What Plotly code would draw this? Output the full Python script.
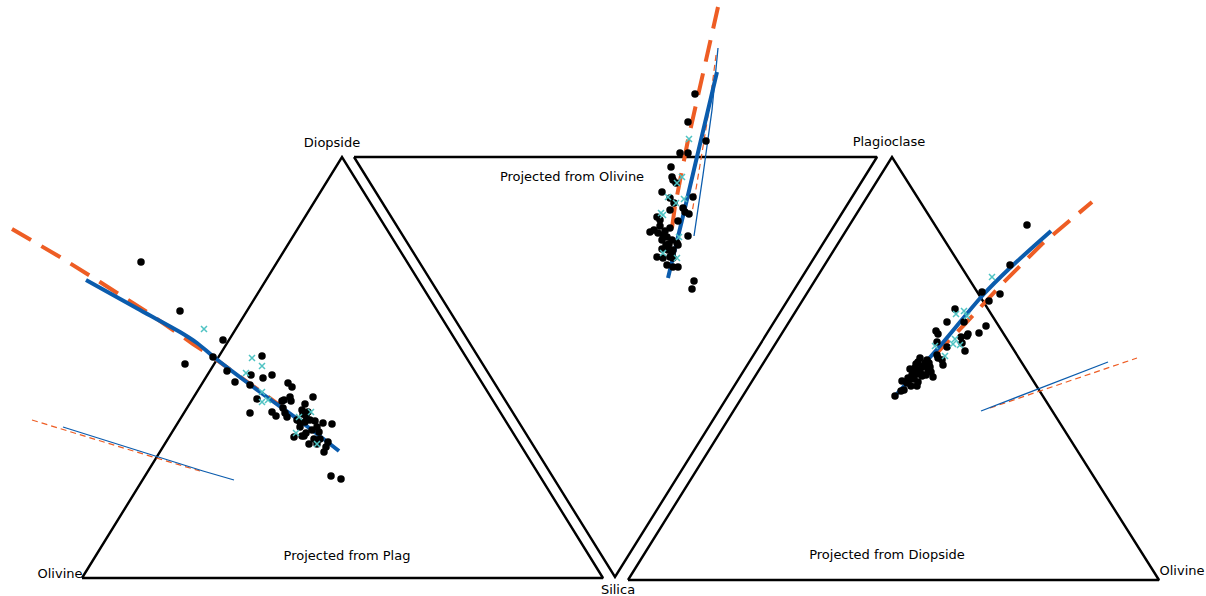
import plotly.graph_objects as go

W, H = 1206, 596

# ---- triangle frames (corner positions in the drawing plane) ----
tri_plag_x = [82, 342, 603, 82]
tri_plag_y = [578, 157, 578, 578]
tri_oliv_x = [354, 877, 615, 354]
tri_oliv_y = [157, 157, 577, 157]
tri_diop_x = [628, 892, 1159, 628]
tri_diop_y = [580, 157, 580, 580]

# ---- projected from Plag (left diagram) ----
plag_dots_x = [141, 180, 223, 185, 213, 227, 235, 262, 251, 263, 272, 250, 257, 250, 288, 292,
               282, 284, 290, 291, 313, 272, 276, 283, 285, 287, 305, 302, 308, 303, 306, 297,
               300, 305, 310, 315, 323, 332, 317, 312, 300, 306, 294, 302, 304, 319, 314, 320,
               309, 317, 328, 326, 324, 331, 341]
plag_dots_y = [262, 311, 340, 364, 357, 371, 382, 356, 375, 378, 375, 385, 399, 413, 383, 387,
               401, 400, 397, 401, 397, 412, 416, 408, 413, 417, 404, 410, 412, 414, 416, 420,
               422, 422, 420, 421, 423, 424, 427, 430, 427, 433, 437, 436, 436, 432, 439, 439,
               444, 444, 442, 447, 452, 476, 479]
plag_x_x = [204, 252, 262, 246, 262, 262, 268, 299, 311, 296, 317]
plag_x_y = [329, 358, 366, 373, 392, 402, 400, 417, 412, 433, 444]
plag_thick_blue_x = [86, 140, 180, 197, 215, 260, 300, 339]
plag_thick_blue_y = [280, 310, 332, 343, 358, 392, 421, 451]
plag_thick_orange_x = [12, 60, 100, 150, 193, 207, 260, 300]
plag_thick_orange_y = [229, 257, 282, 314, 344, 353, 391, 420]
plag_thin_blue_x = [63, 110, 157, 203, 234]
plag_thin_blue_y = [427, 442, 457, 471, 480]
plag_thin_orange_x = [32, 80, 130, 173, 200]
plag_thin_orange_y = [420, 435, 450, 463, 471]

# ---- projected from Olivine (middle diagram) ----
oliv_dots_x = [695, 688, 706, 680, 688, 671, 672, 673, 676, 662, 670, 674, 693, 670, 683, 685,
               689, 657, 660, 678, 670, 650, 654, 658, 663, 667, 672, 688, 677, 678, 662, 666,
               668, 673, 662, 657, 663, 670, 673, 672, 667, 673, 678, 694, 692, 665, 669, 660]
oliv_dots_y = [94, 122, 141, 153, 153, 167, 177, 180, 183, 192, 198, 203, 197, 210, 208, 212,
               214, 217, 220, 221, 228, 232, 230, 233, 235, 237, 240, 236, 243, 245, 240, 245,
               250, 250, 249, 257, 258, 257, 258, 254, 265, 267, 267, 281, 289, 231, 244, 226]
oliv_x_x = [689, 682, 677, 668, 676, 684, 661, 663, 679, 677, 663]
oliv_x_y = [139, 177, 183, 197, 203, 199, 213, 215, 237, 258, 253]
oliv_thick_blue_x = [717, 700, 684, 668]
oliv_thick_blue_y = [72, 144, 212, 278]
oliv_thick_orange_x = [718, 703, 688, 675, 669]
oliv_thick_orange_y = [7, 75, 140, 206, 250]
oliv_thin_blue_x = [718, 712, 703, 694]
oliv_thin_blue_y = [48, 110, 175, 236]
oliv_thin_orange_x = [716, 709, 700, 692]
oliv_thin_orange_y = [55, 110, 165, 213]

# ---- projected from Diopside (right diagram) ----
diop_dots_x = [1027, 1010, 982, 989, 1000, 955, 947, 964, 986, 979, 967, 936, 938, 937, 961, 968,
               962, 947, 965, 937, 938, 943, 918, 925, 922, 915, 920, 928, 933, 912, 917, 922,
               902, 909, 914, 918, 911, 917, 904, 901, 895, 907, 929, 942, 920, 924, 927, 930,
               913, 916, 908, 921, 926, 931, 910]
diop_dots_y = [225, 265, 292, 301, 294, 309, 322, 322, 326, 333, 336, 331, 334, 342, 337, 334,
               343, 347, 351, 355, 358, 365, 362, 363, 367, 368, 370, 371, 377, 375, 374, 376,
               381, 380, 379, 382, 386, 386, 390, 391, 396, 383, 363, 360, 358, 366, 360, 367,
               371, 364, 378, 374, 375, 372, 369]
diop_x_x = [992, 956, 964, 967, 955, 953, 960, 935, 945]
diop_x_y = [277, 314, 311, 316, 339, 344, 345, 346, 356]
diop_thick_blue_x = [895, 940, 983, 1010, 1051]
diop_thick_blue_y = [396, 346, 295, 268, 231]
diop_thick_orange_x = [934, 963, 1002, 1042, 1092]
diop_thick_orange_y = [356, 326, 284, 244, 202]
diop_thin_blue_x = [981, 1040, 1108]
diop_thin_blue_y = [411, 388, 362]
diop_thin_orange_x = [990, 1060, 1137]
diop_thin_orange_y = [408, 384, 358]

# ---- labels ----
label_text = ["Diopside", "Plagioclase", "Projected from Olivine", "Projected from Plag",
              "Projected from Diopside", "Olivine", "Olivine", "Silica"]
label_x = [332, 889, 572, 347, 887, 60, 1182, 618]
label_y = [144, 143, 178, 557, 556, 575, 572, 591]

BLUE = "#0b5cad"
ORANGE = "#ee5d24"
CYAN = "#4fc3c3"

fig = go.Figure()

for tx, ty in [(tri_plag_x, tri_plag_y), (tri_oliv_x, tri_oliv_y), (tri_diop_x, tri_diop_y)]:
    fig.add_trace(go.Scatter(x=tx, y=ty, mode="lines",
                             line=dict(color="black", width=2.4), hoverinfo="skip"))

panels = [
    (plag_dots_x, plag_dots_y, plag_x_x, plag_x_y,
     plag_thick_blue_x, plag_thick_blue_y, plag_thick_orange_x, plag_thick_orange_y,
     plag_thin_blue_x, plag_thin_blue_y, plag_thin_orange_x, plag_thin_orange_y),
    (oliv_dots_x, oliv_dots_y, oliv_x_x, oliv_x_y,
     oliv_thick_blue_x, oliv_thick_blue_y, oliv_thick_orange_x, oliv_thick_orange_y,
     oliv_thin_blue_x, oliv_thin_blue_y, oliv_thin_orange_x, oliv_thin_orange_y),
    (diop_dots_x, diop_dots_y, diop_x_x, diop_x_y,
     diop_thick_blue_x, diop_thick_blue_y, diop_thick_orange_x, diop_thick_orange_y,
     diop_thin_blue_x, diop_thin_blue_y, diop_thin_orange_x, diop_thin_orange_y),
]

for (dx, dy, xx, xy, tbx, tby, tox, toy, nbx, nby, nox, noy) in panels:
    fig.add_trace(go.Scatter(x=nox, y=noy, mode="lines",
                             line=dict(color=ORANGE, width=1.2, dash="6px,4px")))
    fig.add_trace(go.Scatter(x=nbx, y=nby, mode="lines",
                             line=dict(color=BLUE, width=1.3)))
    fig.add_trace(go.Scatter(x=tox, y=toy, mode="lines",
                             line=dict(color=ORANGE, width=4, dash="22px,12px")))
    fig.add_trace(go.Scatter(x=tbx, y=tby, mode="lines", line_shape="spline",
                             line=dict(color=BLUE, width=4)))
    fig.add_trace(go.Scatter(x=dx, y=dy, mode="markers",
                             marker=dict(color="black", size=7.5)))
    fig.add_trace(go.Scatter(x=xx, y=xy, mode="markers",
                             marker=dict(color=CYAN, size=6, symbol="x-thin",
                                         line=dict(color=CYAN, width=1.5))))

fig.add_trace(go.Scatter(x=label_x, y=label_y, mode="text", text=label_text,
                         textposition="middle center",
                         textfont=dict(family="DejaVu Sans", size=13, color="black")))

fig.update_layout(
    width=W, height=H, showlegend=False,
    margin=dict(l=0, r=0, t=0, b=0),
    paper_bgcolor="white", plot_bgcolor="white",
    xaxis=dict(range=[0, W], visible=False, fixedrange=True),
    yaxis=dict(range=[H, 0], visible=False, fixedrange=True),
)

fig.write_html("out.html", config={"displayModeBar": False})
